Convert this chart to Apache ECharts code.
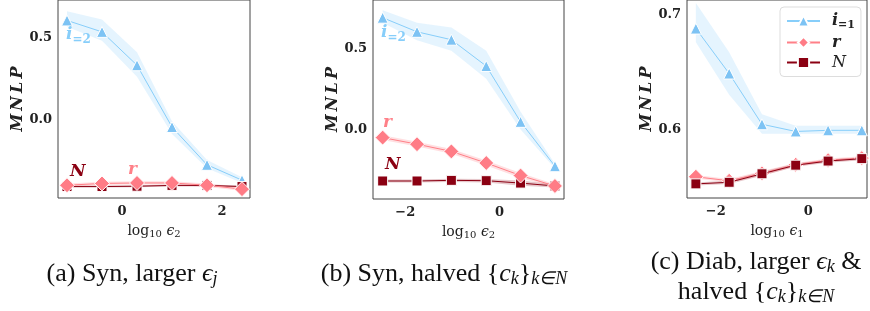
<!DOCTYPE html>
<html>
<head>
  <meta charset="UTF-8">
  <title>MNLP</title>
  <style>
    html, body { margin: 0; padding: 0; background: #fff; }
    #chart { width: 870px; height: 311px; }
  </style>
</head>
<body>
  <div id="chart"></div>
  <script src="https://cdn.jsdelivr.net/npm/echarts@6/dist/echarts.min.js"></script>
  <script>
    // (a) Syn, larger eps_j
    const aX = [-1.1, -0.4, 0.3, 1.0, 1.7, 2.4];
    const aI = [0.604, 0.534, 0.33, -0.048, -0.279, -0.373];
    const aILo = [0.566, 0.48, 0.26, -0.09, -0.30, -0.39];
    const aIHi = [0.66, 0.61, 0.41, -0.012, -0.25, -0.355];
    const aR = [-0.404, -0.393, -0.390, -0.390, -0.404, -0.428];
    const aRLo = [-0.414, -0.403, -0.400, -0.400, -0.414, -0.438];
    const aRHi = [-0.394, -0.383, -0.380, -0.380, -0.394, -0.418];
    const aN = [-0.412, -0.412, -0.410, -0.405, -0.405, -0.412];
    const aNLo = [-0.418, -0.418, -0.416, -0.411, -0.411, -0.418];
    const aNHi = [-0.406, -0.406, -0.404, -0.399, -0.399, -0.406];

    // (b) Syn, halved c_k
    const bX = [-2.48, -1.75, -1.02, -0.28, 0.45, 1.18];
    const bI = [0.695, 0.607, 0.558, 0.394, 0.047, -0.229];
    const bILo = [0.664, 0.554, 0.49, 0.315, 0.0, -0.243];
    const bIHi = [0.742, 0.664, 0.634, 0.49, 0.11, -0.213];
    const bR = [-0.051, -0.092, -0.137, -0.209, -0.287, -0.352];
    const bRLo = [-0.066, -0.107, -0.152, -0.224, -0.302, -0.362];
    const bRHi = [-0.036, -0.077, -0.122, -0.194, -0.272, -0.342];
    const bN = [-0.321, -0.321, -0.317, -0.319, -0.334, -0.352];
    const bNLo = [-0.330, -0.330, -0.327, -0.330, -0.350, -0.362];
    const bNHi = [-0.312, -0.312, -0.307, -0.308, -0.318, -0.342];

    // (c) Diab, larger eps_k & halved c_k
    const cX = [-2.43, -1.71, -1.0, -0.27, 0.43, 1.16];
    const cI = [0.6877, 0.6485, 0.6043, 0.598, 0.599, 0.599];
    const cILo = [0.6757, 0.630, 0.596, 0.596, 0.596, 0.596];
    const cIHi = [0.710, 0.667, 0.613, 0.603, 0.603, 0.603];
    const cR = [0.5585, 0.555, 0.5615, 0.569, 0.573, 0.5748];
    const cRLo = [0.5570, 0.5535, 0.5595, 0.5675, 0.5715, 0.5733];
    const cRHi = [0.5600, 0.5565, 0.5635, 0.5705, 0.5745, 0.5763];
    const cN = [0.5523, 0.5537, 0.5611, 0.5686, 0.5722, 0.5743];
    const cNLo = [0.5510, 0.5522, 0.5593, 0.5672, 0.5708, 0.5730];
    const cNHi = [0.5536, 0.5552, 0.5629, 0.5700, 0.5736, 0.5756];

    const xTicksA = [0, 2];
    const xTicksBC = [-2, 0];
    const yTicksAB = [0.0, 0.5];
    const yTicksC = [0.6, 0.7];

    const BLUE = '#87CEFA', BLUE_M = '#7DC3F4', BLUE_BAND = 'rgba(135,206,250,0.22)';
    const PINK = '#FF8088', PINK_M = '#FF7C86', PINK_BAND = 'rgba(255,128,136,0.25)';
    const DRED = '#8B0012', DRED_BAND = 'rgba(139,0,18,0.22)';
    const SERIF = 'DejaVu Serif';
    const TIMES = 'Liberation Serif';

    const chart = echarts.init(document.getElementById('chart'));

    function band(gi, xs, lo, hi, color, z) {
      return {
        type: 'custom', xAxisIndex: gi, yAxisIndex: gi, silent: true, z: z,
        data: xs.map((x, k) => [x, lo[k], hi[k]]),
        encode: { x: 0, y: [1, 2] },
        renderItem: function (params, api) {
          if (params.dataIndex !== 0) return;
          const top = xs.map((x, k) => api.coord([x, hi[k]]));
          const bot = xs.map((x, k) => api.coord([x, lo[k]])).reverse();
          return { type: 'polygon', shape: { points: top.concat(bot) }, style: { fill: color } };
        }
      };
    }

    function line(gi, name, xs, ys, lineColor, color, symbol, size, z) {
      return {
        type: 'line', name: name, xAxisIndex: gi, yAxisIndex: gi, z: z,
        data: xs.map((x, k) => [x, ys[k]]),
        symbol: symbol, symbolSize: size, showAllSymbol: true,
        lineStyle: { color: lineColor, width: 1 },
        itemStyle: { color: color, borderColor: '#fff', borderWidth: 1 }
      };
    }

    function xAxis(gi, min, max, ticks, sub) {
      return {
        type: 'value', gridIndex: gi, min: min, max: max,
        splitLine: { show: false }, axisLine: { show: false }, axisTick: { show: false },
        axisLabel: {
          customValues: ticks, margin: 7, color: '#222',
          fontFamily: SERIF, fontWeight: 'bold', fontSize: 13,
          formatter: v => (v < 0 ? '\u2212' + Math.abs(v) : String(v))
        },
        name: '{t|log}{s|10}{t| }{m|\u03f5}{s|' + sub + '}',
        nameLocation: 'middle', nameGap: 20,
        nameTextStyle: {
          color: '#222',
          rich: {
            t: { fontFamily: SERIF, fontSize: 14, color: '#222', lineHeight: 16 },
            m: { fontFamily: SERIF, fontStyle: 'italic', fontSize: 14, color: '#222', lineHeight: 16 },
            s: { fontFamily: SERIF, fontSize: 10, color: '#222', lineHeight: 10, padding: [7, 0, 0, 0] }
          }
        }
      };
    }

    function yAxis(gi, min, max, ticks) {
      return {
        type: 'value', gridIndex: gi, min: min, max: max,
        splitLine: { show: false }, axisLine: { show: false }, axisTick: { show: false },
        axisLabel: {
          customValues: ticks, margin: 6, color: '#222',
          fontFamily: SERIF, fontWeight: 'bold', fontSize: 13,
          formatter: v => v.toFixed(1)
        },
        name: 'M\u2009N\u2009L\u2009P', nameLocation: 'middle', nameGap: 29,
        nameTextStyle: { fontFamily: SERIF, fontStyle: 'italic', fontWeight: 'bold', fontSize: 16, color: '#222' }
      };
    }

    const gridBase = { show: true, borderColor: '#444', borderWidth: 1, top: -3 };

    const series = [
      band(0, aX, aILo, aIHi, BLUE_BAND, 1),
      band(0, aX, aNLo, aNHi, DRED_BAND, 1),
      band(0, aX, aRLo, aRHi, PINK_BAND, 1),
      line(0, 'ai', aX, aI, BLUE, BLUE_M, 'triangle', 11, 3),
      line(0, 'aN', aX, aN, DRED, DRED, 'rect', 10, 4),
      line(0, 'ar', aX, aR, PINK, PINK_M, 'diamond', 15, 5),

      band(1, bX, bILo, bIHi, BLUE_BAND, 1),
      band(1, bX, bNLo, bNHi, DRED_BAND, 1),
      band(1, bX, bRLo, bRHi, PINK_BAND, 1),
      line(1, 'bi', bX, bI, BLUE, BLUE_M, 'triangle', 11, 3),
      line(1, 'bN', bX, bN, DRED, DRED, 'rect', 10, 4),
      line(1, 'br', bX, bR, PINK, PINK_M, 'diamond', 15, 5),

      band(2, cX, cILo, cIHi, BLUE_BAND, 1),
      band(2, cX, cRLo, cRHi, PINK_BAND, 1),
      band(2, cX, cNLo, cNHi, DRED_BAND, 1),
      line(2, 'ci', cX, cI, BLUE, BLUE_M, 'triangle', 11, 3),
      line(2, 'cr', cX, cR, PINK, PINK_M, 'diamond', 15, 4),
      line(2, 'cN', cX, cN, DRED, DRED, 'rect', 10, 5)
    ];

    const legendNames = { ci: '{b|i}{s|=1}', cr: '{b|r}', cN: '{n|N}' };

    const capRich = {
      t: { fontFamily: TIMES, fontSize: 26, fill: '#111', lineHeight: 30 },
      m: { fontFamily: TIMES, fontStyle: 'italic', fontSize: 26, fill: '#111', lineHeight: 30 },
      s: { fontFamily: TIMES, fontStyle: 'italic', fontSize: 18, fill: '#111', lineHeight: 18, padding: [10, 0, 0, 0] }
    };
    function caption(x, y, text) {
      return {
        type: 'text', x: x, y: y, silent: true,
        style: { text: text, rich: capRich, fontFamily: TIMES, fontSize: 26, fill: '#111', align: 'center', verticalAlign: 'middle' }
      };
    }
    function mathLabel(x, y, text, color) {
      return {
        type: 'text', x: x, y: y, silent: true, z: 10,
        style: {
          text: text, fill: color, align: 'left', verticalAlign: 'middle',
          fontFamily: SERIF, fontStyle: 'italic', fontWeight: 'bold', fontSize: 17,
          rich: {
            i: { fontFamily: SERIF, fontStyle: 'italic', fontWeight: 'bold', fontSize: 17, fill: color, lineHeight: 20 },
            s: { fontFamily: SERIF, fontWeight: 'bold', fontSize: 12, fill: color, lineHeight: 12, padding: [9, 0, 0, 0] }
          }
        }
      };
    }

    const option = {
      animation: false,
      backgroundColor: '#fff',
      grid: [
        Object.assign({}, gridBase, { left: 58, right: 620, bottom: 113 }),
        Object.assign({}, gridBase, { left: 373, right: 306, bottom: 112 }),
        Object.assign({}, gridBase, { left: 687, right: 3, bottom: 113 })
      ],
      xAxis: [
        xAxis(0, -1.28, 2.56, xTicksA, '2'),
        xAxis(1, -2.685, 1.372, xTicksBC, '2'),
        xAxis(2, -2.622, 1.272, xTicksBC, '1')
      ],
      yAxis: [
        yAxis(0, -0.482, 0.729, yTicksAB),
        yAxis(1, -0.433, 0.805, yTicksAB),
        yAxis(2, 0.54, 0.7126, yTicksC)
      ],
      legend: {
        left: 780, top: 7, orient: 'vertical',
        data: ['ci', 'cr', 'cN'],
        itemWidth: 33, itemHeight: 14, itemGap: 4,
        padding: [6, 6, 6, 6],
        backgroundColor: '#fff', borderColor: '#ddd', borderWidth: 1, borderRadius: 4,
        formatter: n => legendNames[n],
        textStyle: {
          rich: {
            b: { fontFamily: SERIF, fontStyle: 'italic', fontWeight: 'bold', fontSize: 16, color: '#222', padding: [0, 0, 0, 7] },
            n: { fontFamily: SERIF, fontStyle: 'italic', fontSize: 16, color: '#222', padding: [0, 0, 0, 7] },
            s: { fontFamily: SERIF, fontWeight: 'bold', fontSize: 11, color: '#222', padding: [8, 0, 0, 0] }
          }
        }
      },
      graphic: [
        mathLabel(70, 172, 'N', DRED),
        mathLabel(128, 170, 'r', PINK),
        mathLabel(66, 35, '{i|i}{s|=2}', BLUE),
        mathLabel(383, 123, 'r', PINK),
        mathLabel(385, 165, 'N', DRED),
        mathLabel(381, 33, '{i|i}{s|=2}', BLUE),
        caption(132, 274, '{t|(a) Syn, larger }{m|\u03f5}{s|j}'),
        caption(444, 274, '{t|(b) Syn, halved {}{m|c}{s|k}}{s|k\u2208N}'),
        caption(756, 277, '{t|(c) Diab, larger }{m|\u03f5}{s|k}{t| &}\n{t|halved {}{m|c}{s|k}}{s|k\u2208N}')
      ],
      series: series
    };

    chart.setOption(option);
  </script>
</body>
</html>
